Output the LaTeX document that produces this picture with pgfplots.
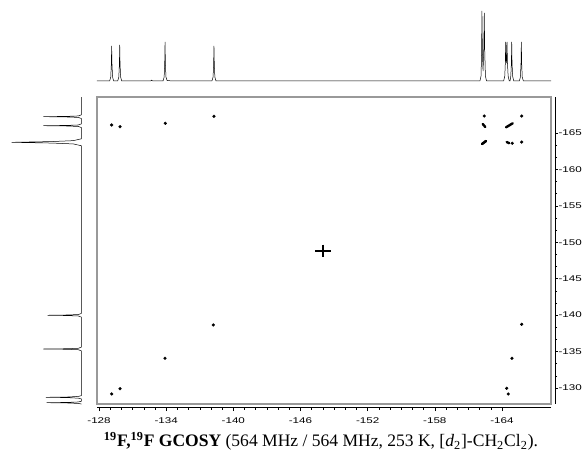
\documentclass[border=0pt]{standalone}
\usepackage{fontspec}
\setmainfont{Liberation Serif}
\newfontfamily\tickfont[FakeStretch=1.4]{Liberation Sans}
\usepackage{graphicx}
\usepackage{pgfplots}
\pgfplotsset{compat=1.18}
\begin{document}
\begin{tikzpicture}
\useasboundingbox (0,0) rectangle (585pt,458pt);
% ---------- main 2D panel ----------
\begin{axis}[at={(97pt,54pt)}, anchor=south west, scale only axis,
  width=454pt, height=307pt,
  x dir=reverse, y dir=reverse,
  xmin=-168.38, xmax=-127.82, ymin=-169.94, ymax=-127.80,
  xtick=\empty, ytick=\empty,
  axis line style={draw=gray!80, line width=1.4pt}, clip=false]
\addplot[only marks, mark=*, mark size=1.4pt, black] coordinates {
 (-129.13,-166.10) (-129.88,-165.86) (-133.92,-166.33) (-138.27,-167.29)
 (-162.42,-167.33) (-165.76,-167.33) (-164.92,-163.59) (-165.76,-163.76)
 (-138.21,-138.65) (-133.90,-134.08) (-129.13,-129.18) (-129.88,-129.90)
 (-165.76,-138.74) (-164.89,-134.08) (-164.42,-129.96) (-164.56,-129.18)
};
\addplot[black, line width=2.4pt, line cap=round] coordinates {(-162.28,-166.24) (-162.51,-165.82)};
\addplot[black, line width=2.4pt, line cap=round] coordinates {(-164.36,-165.78) (-164.96,-166.33)};
\addplot[black, line width=2.6pt, line cap=round] coordinates {(-162.22,-163.49) (-162.57,-163.90)};
\addplot[black, line width=2.4pt, line cap=round] coordinates {(-164.42,-163.76) (-164.65,-163.60)};
% centre artefact
\addplot[black, line width=2pt] coordinates {(-147.33,-148.85) (-148.75,-148.85)};
\addplot[black, line width=2pt] coordinates {(-148.04,-149.67) (-148.04,-148.03)};
\end{axis}
% ---------- x tick axis ----------
\begin{axis}[at={(97pt,51pt)}, anchor=south west, scale only axis,
  width=454pt, height=10pt,
  x dir=reverse, xmin=-168.38, xmax=-127.82, ymin=0, ymax=1,
  axis x line=bottom, axis y line=none,
  axis line style={-, line width=0.6pt},
  xtick={-128,-134,-140,-146,-152,-158,-164},
  xticklabels={-128,-134,-140,-146,-152,-158,-164},
  minor x tick num=5, tick align=outside,
  major tick length=4pt, minor tick length=2.5pt,
  tick style={black, line width=0.5pt},
  xticklabel style={font=\tickfont\fontsize{8.3}{9}\selectfont, yshift=-3pt}]
\addplot[draw=none] coordinates {(-140,0.5)};
\end{axis}
% ---------- y tick axis ----------
\begin{axis}[at={(545pt,54pt)}, anchor=south west, scale only axis,
  width=10pt, height=307pt,
  y dir=reverse, ymin=-169.94, ymax=-127.80, xmin=0, xmax=1,
  axis y line=right, axis x line=none,
  axis line style={-, line width=0.6pt},
  ytick={-165,-160,-155,-150,-145,-140,-135,-130},
  yticklabels={-165,-160,-155,-150,-145,-140,-135,-130},
  minor y tick num=2, tick align=outside,
  major tick length=3pt, minor tick length=2pt,
  tick style={black, line width=0.5pt},
  yticklabel style={font=\tickfont\fontsize{8.3}{9}\selectfont, xshift=-3pt}]
\addplot[draw=none] coordinates {(0.5,-150)};
\end{axis}
% ---------- top projection ----------
\begin{axis}[at={(97pt,377pt)}, anchor=south west, scale only axis,
  width=454pt, height=75pt,
  x dir=reverse, xmin=-168.38, xmax=-127.82, ymin=0, ymax=75,
  axis lines=none, clip=false]
\addplot[black, line width=0.5pt] coordinates {
 (-127.82,0) (-128.95,0) (-129.05,4) (-129.10,17) (-129.13,35) (-129.16,17) (-129.21,4) (-129.31,0)
 (-129.67,0) (-129.77,4) (-129.82,17) (-129.85,36) (-129.88,17) (-129.93,4) (-130.03,0)
 (-132.60,0) (-132.70,0.8) (-132.80,0)
 (-133.72,0) (-133.82,4) (-133.87,18) (-133.90,39) (-133.93,18) (-133.98,4) (-134.08,0.5) (-134.3,0.3) (-134.5,0)
 (-138.09,0) (-138.19,4) (-138.24,17) (-138.27,35) (-138.30,17) (-138.35,4) (-138.45,0)
 (-162.03,0) (-162.13,5) (-162.18,30) (-162.21,70) (-162.25,30) (-162.31,10) (-162.37,30) (-162.42,68) (-162.46,30) (-162.52,5) (-162.62,0)
 (-164.15,0) (-164.25,5) (-164.30,18) (-164.33,39) (-164.37,22) (-164.39,18) (-164.42,22) (-164.45,39) (-164.49,18) (-164.55,5) (-164.65,0)
 (-164.72,0) (-164.79,5) (-164.84,18) (-164.87,39) (-164.90,18) (-164.95,5) (-165.05,0)
 (-165.55,0) (-165.65,4) (-165.70,18) (-165.73,39) (-165.76,18) (-165.81,4) (-165.91,0)
 (-168.38,0)
};
\end{axis}
% ---------- left projection ----------
\begin{axis}[at={(0pt,54pt)}, anchor=south west, scale only axis,
  width=81.3pt, height=307pt,
  x dir=reverse, xmin=0, xmax=81.3,
  y dir=reverse, ymin=-169.94, ymax=-127.80,
  axis lines=none, clip=false]
\addplot[black, line width=0.5pt] coordinates {
 (0,-169.94)
 (0,-167.49) (3,-167.34) (15,-167.28) (38,-167.24) (15,-167.20) (3,-167.14) (0,-166.99)
 (0,-166.25) (3,-166.10) (15,-166.04) (38,-166.00) (15,-165.96) (3,-165.90) (0,-165.75)
 (0,-164.20) (8,-163.95) (30,-163.82) (69.6,-163.72) (30,-163.62) (8,-163.50) (0,-163.25)
 (0,-140.23) (3,-140.08) (14,-140.02) (33.6,-139.98) (14,-139.94) (3,-139.88) (0,-139.73)
 (0,-135.60) (3,-135.45) (15,-135.39) (38,-135.35) (15,-135.31) (3,-135.25) (0,-135.10)
 (0,-128.95) (3,-128.84) (14,-128.76) (35.3,-128.72) (14,-128.68) (3,-128.60) (0,-128.50)
 (0,-128.18) (3,-128.08) (14,-128.02) (34.6,-127.98) (14,-127.94) (3,-127.88) (0,-127.80)
};
\end{axis}
% ---------- caption ----------
\node[anchor=base, inner sep=0pt] at (321pt,11.3pt) {\resizebox{434pt}{!}{\textbf{\textsuperscript{19}F,\textsuperscript{19}F GCOSY} (564 MHz / 564 MHz, 253 K, [\textit{d}\textsubscript{2}]-CH\textsubscript{2}Cl\textsubscript{2}).}};
\end{tikzpicture}
\end{document}
